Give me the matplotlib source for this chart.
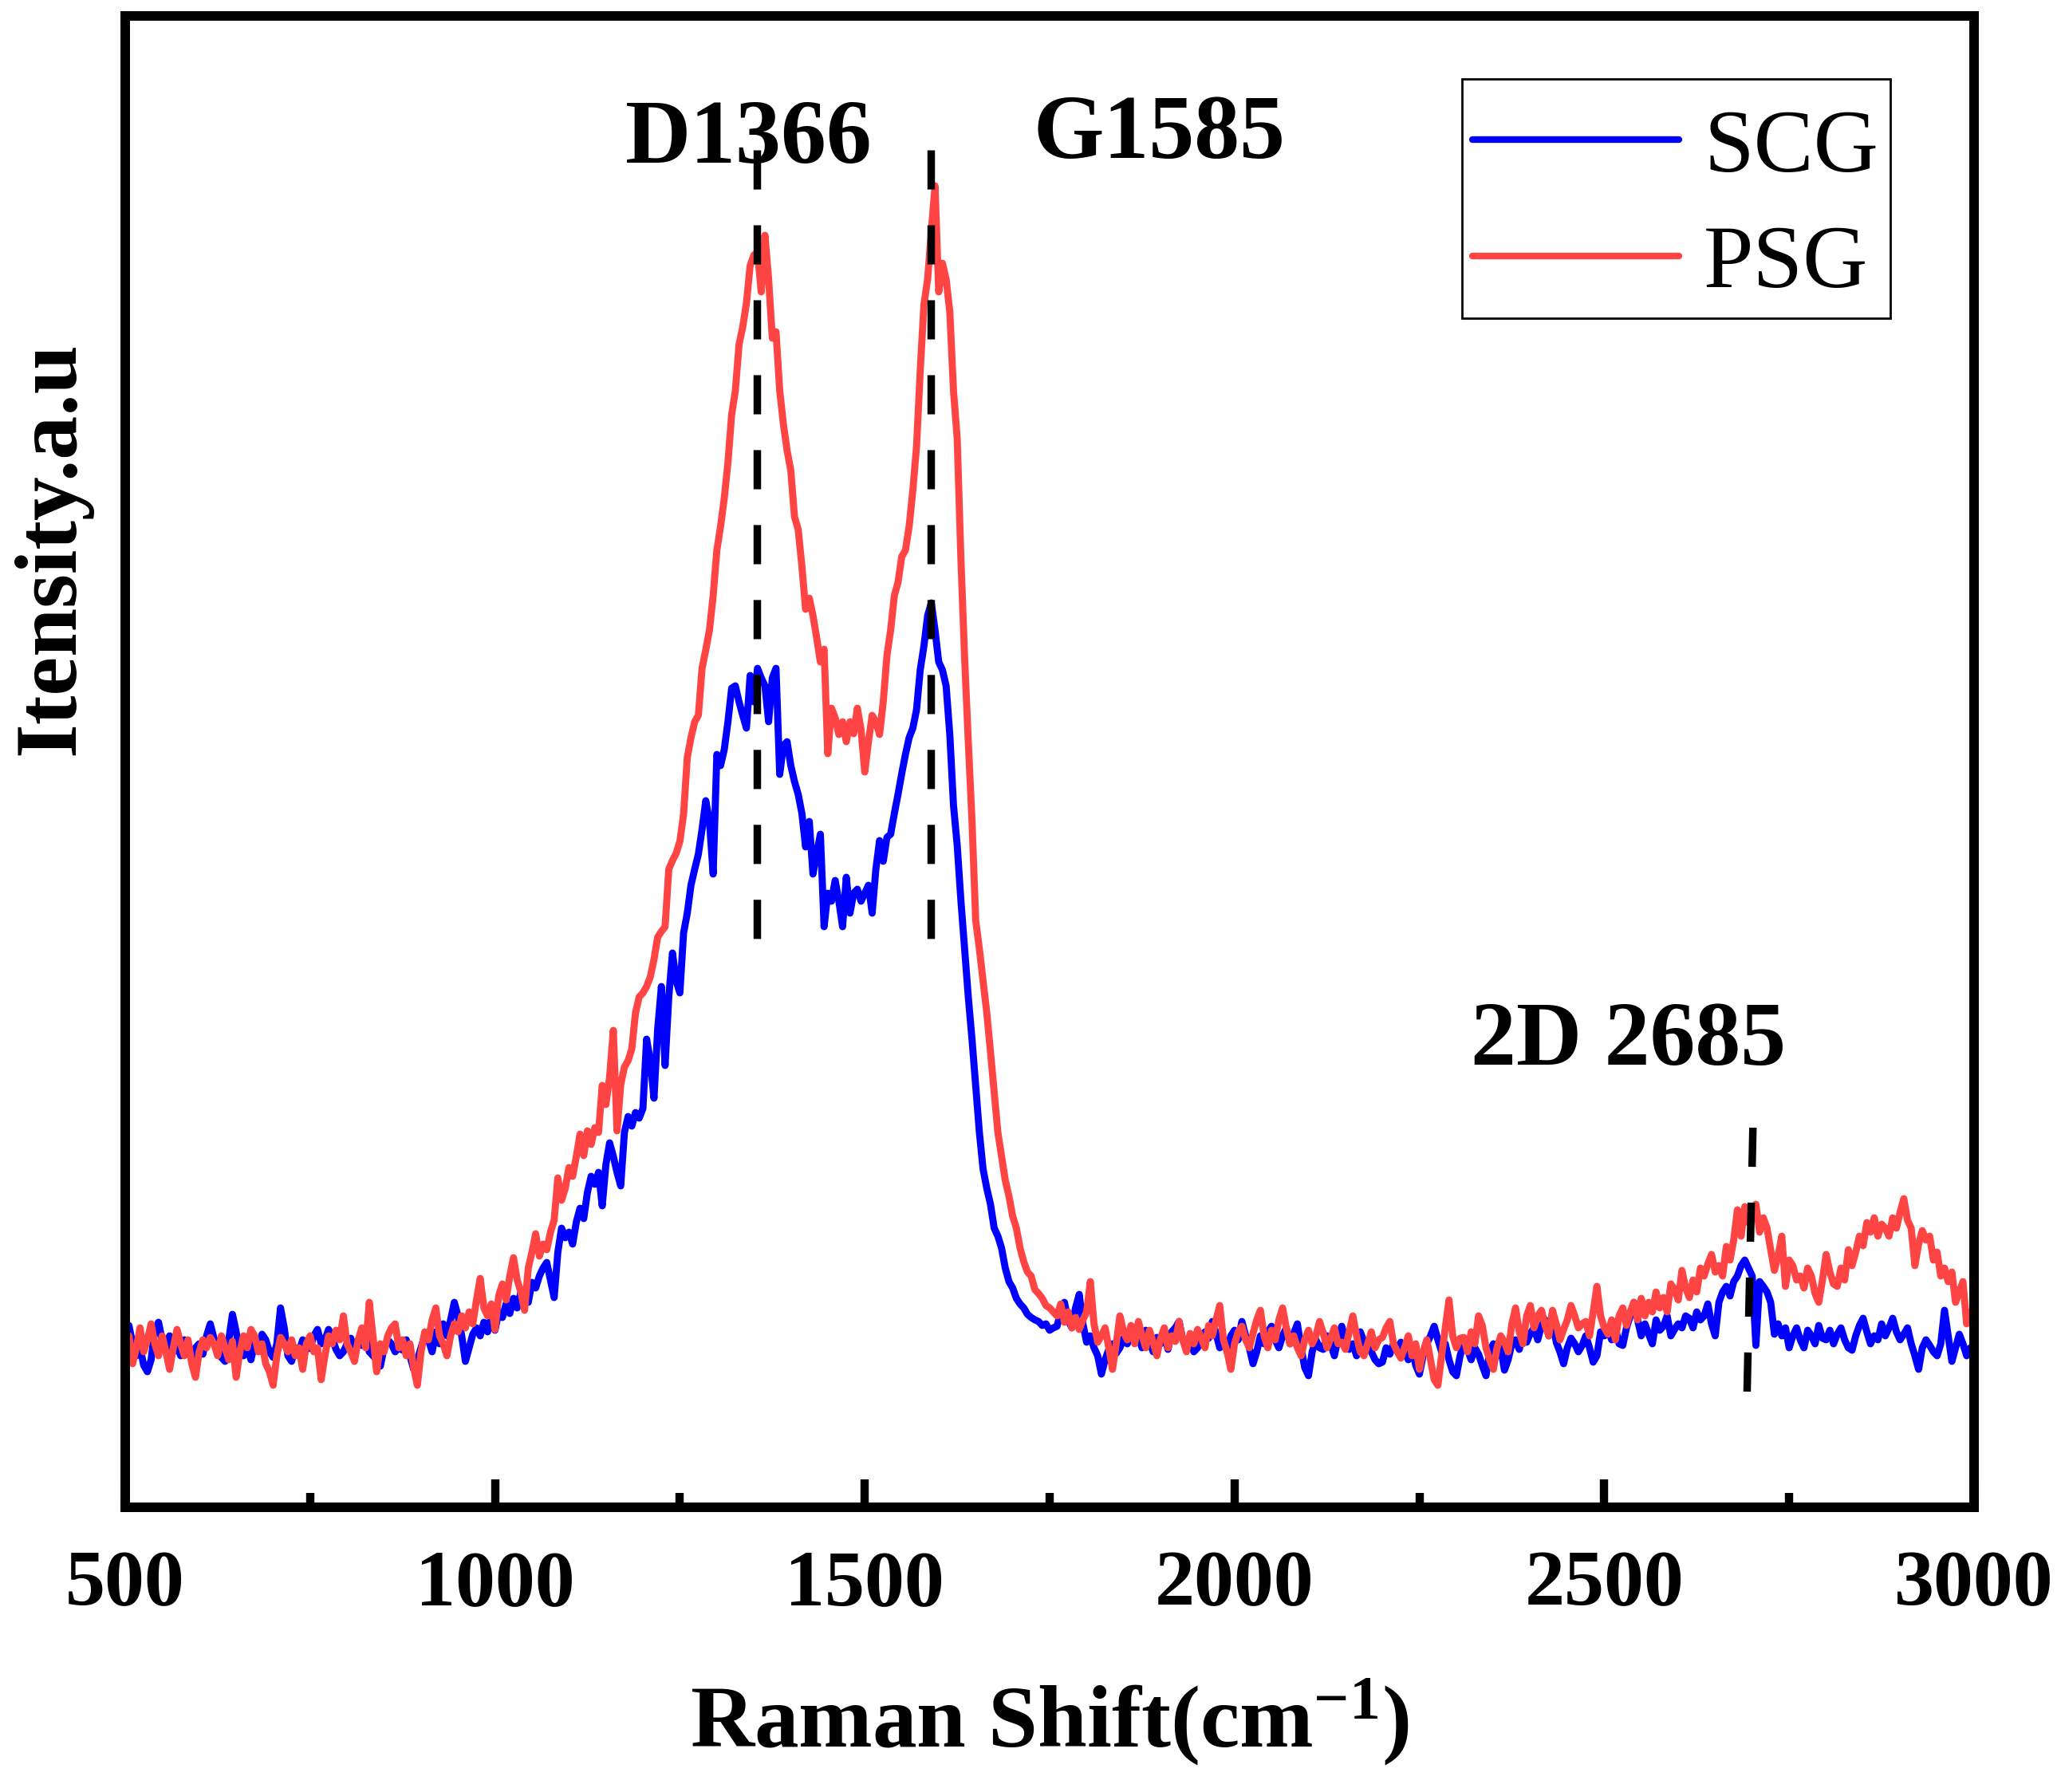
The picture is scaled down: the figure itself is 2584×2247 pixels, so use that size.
import numpy as np
import matplotlib
matplotlib.use("Agg")
import matplotlib.pyplot as plt
from matplotlib.ticker import MultipleLocator
from matplotlib.patches import Rectangle

# ---------------- data ----------------
wavenumber = list(range(500, 3001, 5))   # Raman shift, cm^-1

scg_intensity = (
    [215,228,205,190,200,178,170,185,222,232,210,200,215,195,203,190,210,198,185,200] +
    [205,192,215,230,212,198,188,183,210,242,220,195,190,200,185,205,198,217,210,195] +
    [188,205,250,225,190,183,200,195,210,198,200,215,223,205,210,223,212,198,190,195] +
    [205,212,198,208,203,215,195,190,185,177,200,210,205,195,200,197,210,190,173,185] +
    [200,215,210,195,220,205,230,215,235,257,240,215,183,200,217,225,215,232,220,240] +
    [222,245,238,255,243,262,250,270,262,257,282,275,290,300,307,285,263,320,350,338] +
    [345,330,358,375,362,395,415,405,420,378,430,457,440,420,403,470,490,478,495,488] +
    [500,587,560,513,600,653,554,640,695,660,645,720,745,780,800,819,850,886,860,794] +
    [944,930,950,985,1027,1030,1010,993,977,1043,1010,1052,1040,1030,985,1040,1052,919,955,960] +
    [930,910,894,870,828,860,794,820,844,728,770,760,786,760,728,790,745,770,775,760] +
    [770,780,745,800,836,810,840,844,870,894,920,944,965,977,1000,1050,1080,1118,1134,1100] +
    [1060,1050,1030,969,880,830,761,700,640,587,529,470,424,400,380,350,340,325,300,283] +
    [275,262,255,250,242,238,235,233,228,230,222,225,227,245,257,235,225,250,267,230] +
    [207,215,200,190,167,185,198,205,193,200,212,205,218,210,213,200,222,208,195,213] +
    [205,215,198,220,225,233,210,200,215,195,200,208,220,212,233,218,200,212,195,215] +
    [222,210,233,215,200,180,195,215,205,220,227,210,200,215,225,205,218,230,200,175] +
    [165,195,210,200,198,215,205,190,212,227,210,198,205,190,220,208,200,195,185,180] +
    [182,200,192,205,198,207,195,185,200,178,167,190,205,215,227,210,195,205,185,170] +
    [165,190,205,198,185,200,192,178,165,195,205,190,200,172,185,205,210,198,215,207] +
    [218,225,210,228,235,215,240,207,195,180,200,212,205,195,203,215,200,182,190,220] +
    [215,223,210,225,205,203,225,240,257,235,215,230,217,205,235,222,227,240,215,223] +
    [230,225,240,237,225,245,235,240,255,230,215,257,270,277,265,283,290,303,310,300] +
    [290,203,283,277,270,257,217,230,215,225,200,215,225,210,200,222,215,205,228,212] +
    [210,222,205,217,225,210,200,197,215,228,237,220,205,215,210,230,215,225,237,220] +
    [210,217,225,205,190,173,200,210,203,195,190,205,247,215,183,200,217,205,190,200] +
    [195]
)

psg_intensity = (
    [205,215,180,200,225,195,210,230,205,190,215,195,173,200,223,205,190,210,180,163] +
    [195,210,200,213,205,190,215,200,185,208,163,195,215,200,223,215,195,205,180,170] +
    [153,190,213,205,195,210,190,200,173,205,215,195,200,160,190,215,205,222,210,240] +
    [205,195,183,210,225,200,257,215,170,205,195,215,225,230,200,210,190,205,175,153] +
    [195,220,210,235,250,215,205,190,215,230,220,240,225,245,230,260,287,250,240,255] +
    [223,265,280,260,290,313,285,270,247,300,320,343,315,330,323,345,360,413,385,400] +
    [426,415,440,468,441,472,455,476,470,529,505,540,598,472,530,552,560,575,620,640] +
    [645,653,665,687,715,722,728,800,811,820,835,869,940,965,985,993,1052,1075,1100,1143] +
    [1200,1230,1265,1310,1370,1400,1458,1480,1510,1557,1570,1574,1524,1595,1540,1466,1474,1400,1358,1325] +
    [1300,1242,1226,1180,1126,1140,1118,1090,1060,1076,945,1002,990,969,985,960,985,970,1002,975] +
    [922,960,993,985,969,1010,1068,1100,1143,1160,1192,1200,1230,1275,1330,1425,1508,1540,1600,1657] +
    [1524,1560,1540,1499,1400,1340,1190,1066,960,861,736,700,660,620,571,520,470,440,410,390] +
    [365,350,325,308,295,290,273,268,262,253,250,245,240,255,232,245,225,238,223,235] +
    [245,283,230,207,215,225,200,173,205,240,220,210,228,205,233,215,200,222,207,190] +
    [212,225,200,215,208,233,210,195,218,205,223,212,200,228,215,235,253,210,195,173] +
    [205,220,227,210,200,218,235,247,215,200,222,210,235,250,225,205,215,200,190,210] +
    [222,205,215,233,218,200,212,225,205,207,198,220,240,215,195,190,205,220,200,210] +
    [213,225,233,205,195,187,200,215,190,205,173,195,210,185,160,153,190,225,260,215] +
    [200,212,213,195,220,205,240,228,200,185,173,200,215,207,195,230,250,220,205,240] +
    [253,225,240,247,228,215,247,230,210,223,235,253,240,225,230,233,215,245,277,240] +
    [225,217,235,210,240,250,228,245,257,235,262,240,257,245,270,250,263,245,280,273] +
    [260,297,275,263,285,270,300,290,305,317,295,303,290,327,310,335,373,340,377,357] +
    [365,380,345,363,350,323,297,315,340,277,310,303,285,290,275,300,290,268,257,285] +
    [317,295,280,277,300,285,323,303,320,340,328,357,345,363,340,355,350,340,363,350] +
    [370,387,360,350,303,330,347,335,340,310,320,290,300,283,295,257,270,283,230,245] +
    [235]
)

series_names = ["SCG", "PSG"]
series_colors = ["#0000ff", "#ff4444"]

peak_labels = ["D1366", "G1585", "2D 2685"]
peak_label_x = [1343, 1898, 2532]
peak_label_y = [1686, 1692, 555]

# dashed marker lines: (x_top, x_bottom, y_top, y_bottom)
d_line = [1354, 1354, 1702, 707]
g_line = [1589, 1589, 1702, 707]
twod_line = [2701, 2693, 476, 142]

x_ticks = [500, 1000, 1500, 2000, 2500, 3000]

# ---------------- figure ----------------
plt.rcParams['font.family'] = ['Liberation Serif', 'DejaVu Serif']
plt.rcParams['font.weight'] = 'bold'
plt.rcParams['mathtext.fontset'] = 'custom'
plt.rcParams['mathtext.rm'] = 'Liberation Serif'
plt.rcParams['mathtext.default'] = 'rm'

W, H = 2584, 2247
fig = plt.figure(figsize=(W / 100, H / 100), dpi=100)
ax = fig.add_axes([157 / W, 1 - 1890 / H, 2318 / W, 1870 / H])

ax.plot(wavenumber, scg_intensity, color=series_colors[0], lw=6.4, label=series_names[0])
ax.plot(wavenumber, psg_intensity, color=series_colors[1], lw=6.4, label=series_names[1])

dash = (0, (5.2, 4.75))
for ln in (d_line, g_line, twod_line):
    ax.plot([ln[0], ln[1]], [ln[2], ln[3]], color='black', lw=6.8, linestyle=dash)

for txt, tx, ty in zip(peak_labels, peak_label_x, peak_label_y):
    ax.text(tx, ty, txt, ha='center', va='baseline', fontsize=82, fontweight='bold')

ax.set_xlim(500, 3000)
ax.set_ylim(0, 1870)
ax.set_xticks(x_ticks)
ax.set_xticklabels([str(t) for t in x_ticks])
ax.xaxis.set_minor_locator(MultipleLocator(250))
ax.set_yticks([])

for sp in ax.spines.values():
    sp.set_linewidth(8.6)
ax.tick_params(axis='x', which='major', direction='in', length=25, width=7.5,
               labelsize=72, pad=38, top=False)
ax.tick_params(axis='x', which='minor', direction='in', length=13, width=7.5, top=False)
for lab in ax.get_xticklabels():
    lab.set_fontweight('bold')

# legend frame (drawn separately to get the reference's uneven padding)
frame = Rectangle((1833 / W, 1 - 399 / H), (2370 - 1833) / W, (399 - 99) / H,
                  transform=fig.transFigure, facecolor='white', edgecolor='black',
                  linewidth=2.0, zorder=4)
ax.add_patch(frame)

leg = ax.legend(loc='upper left', bbox_to_anchor=(1846 / W, 1 - 136 / H),
                bbox_transform=fig.transFigure, borderaxespad=0,
                prop={'family': 'Liberation Serif', 'weight': 'normal', 'size': 81},
                handlelength=2.3, handletextpad=0.28, borderpad=0.0, labelspacing=0.38,
                frameon=False)
leg.set_zorder(5)
for h in leg.get_lines():
    h.set_linewidth(6.0)
    h.set_solid_capstyle('round')

fig.text(1316 / W, 1 - 2190 / H, r'Raman Shift(cm$^{-1}$)', ha='center', va='baseline',
         fontsize=80, fontweight='bold')
fig.text(65 / W, 1 - 688 / H, 'Itensity.a.u', rotation=90, ha='center', va='center',
         fontsize=79, fontweight='bold')

fig.savefig('out.png', dpi=100)
